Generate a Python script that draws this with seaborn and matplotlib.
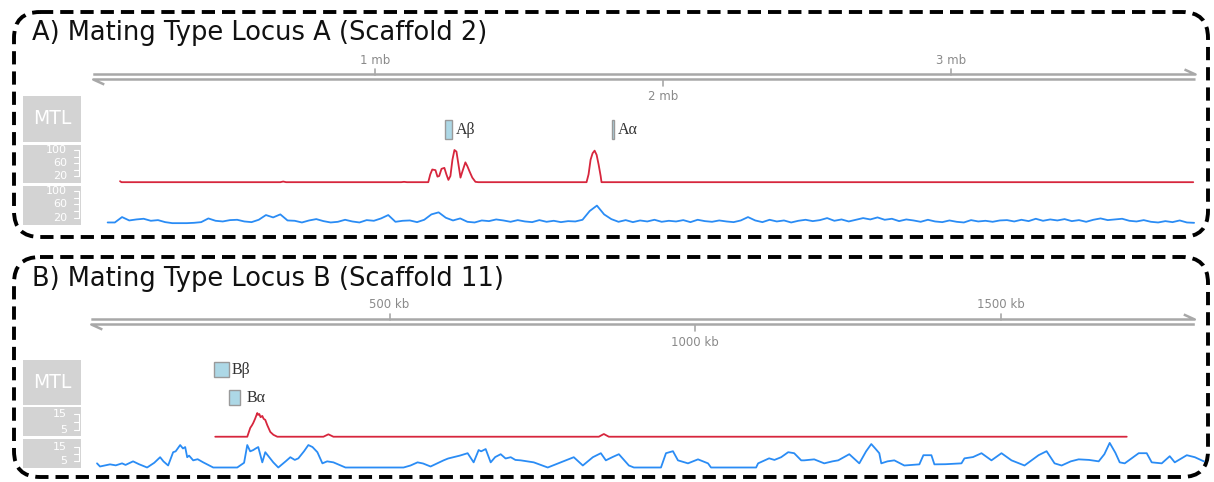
import numpy as np
import pandas as pd
import matplotlib
matplotlib.use("Agg")
import matplotlib.pyplot as plt
import matplotlib.transforms as mtransforms
from matplotlib.patches import FancyBboxPatch, Rectangle
import seaborn as sns

sns.set_theme(style="white")
plt.rcParams["font.family"] = ["DejaVu Sans"]

# ---------------- Scaffold 2 (positions in mb) ----------------
a_title = "A) Mating Type Locus A (Scaffold 2)"
a_ruler = (0.02, 3.85)
a_ticks = [1, 2, 3]
a_tick_labels = ["1 mb", "2 mb", "3 mb"]
a_genes = ["Aβ", "Aα"]
a_gene_start = [1.243, 1.821]
a_gene_end = [1.267, 1.828]

a_red_pos = [0.113, 0.118, 0.67, 0.68, 0.69, 1.09, 1.10, 1.11, 1.184, 1.191, 1.198,
             1.209, 1.216, 1.222, 1.230, 1.240, 1.247, 1.254, 1.261, 1.268, 1.275,
             1.282, 1.289, 1.296, 1.303, 1.313, 1.320, 1.327, 1.337, 1.348, 1.358,
             1.734, 1.741, 1.748, 1.755, 1.762, 1.769, 1.776, 1.783, 1.786, 3.842]
a_red_val = [4, 1, 1, 3, 1, 1, 2, 1, 1, 25, 40,
             38, 18, 20, 42, 45, 25, 8, 20, 70, 100,
             95, 55, 15, 35, 62, 50, 35, 15, 2, 1,
             1, 25, 70, 90, 98, 85, 55, 20, 1, 1]

a_blue_start, a_blue_step = 0.07, 0.025
a_blue_val = [6, 6, 22, 12, 15, 17, 11, 13, 7, 4, 4, 4, 5, 7, 18, 11, 9, 13, 14, 9,
              7, 14, 28, 21, 30, 12, 11, 6, 12, 16, 10, 6, 8, 14, 9, 6, 13, 11, 18, 28,
              8, 11, 12, 7, 14, 30, 36, 20, 12, 18, 8, 6, 12, 10, 15, 12, 8, 13, 9, 7,
              13, 8, 11, 7, 10, 9, 14, 40, 56, 30, 16, 8, 13, 7, 12, 9, 14, 8, 11, 9,
              13, 7, 14, 10, 8, 12, 9, 7, 12, 22, 12, 7, 14, 9, 12, 6, 11, 14, 10, 13,
              19, 11, 15, 9, 14, 19, 15, 21, 14, 17, 10, 15, 12, 8, 14, 9, 7, 12, 8, 6,
              13, 9, 11, 8, 12, 13, 9, 14, 10, 17, 11, 15, 12, 16, 10, 13, 8, 14, 18, 13,
              15, 17, 11, 9, 13, 8, 6, 10, 7, 12, 6, 5]

# ---------------- Scaffold 11 (positions in kb) ----------------
b_title = "B) Mating Type Locus B (Scaffold 11)"
b_ruler = (12, 1818)
b_ticks = [500, 1000, 1500]
b_tick_labels = ["500 kb", "1000 kb", "1500 kb"]
b_genes = ["Bβ", "Bα"]
b_gene_start = [213, 238]
b_gene_end = [238, 256]

b_red_pos = [214.8, 267.2, 272.1, 275, 277.0, 280, 283.6, 285, 286.9, 289, 291.8, 294,
             296.7, 300, 304.9, 310, 316.4, 391.8, 400.0, 408.2, 842.6, 850.8, 859.0, 1706.6]
b_red_val = [0.8, 0.8, 6.3, 8, 9.4, 12, 15.6, 14.5, 15.0, 13, 13.8, 12,
             11.3, 8, 3.8, 2, 0.8, 0.8, 2.3, 0.8, 0.8, 2.5, 0.8, 0.8]

b_blue_pos = [21.3, 26.2, 42.6, 52, 62.3, 68, 80.3, 90, 103.3, 115, 124.6, 130, 137.7,
              145.9, 150, 157.4, 162, 165.6, 168.9, 172, 178.7, 186, 195.1, 211.5, 250.8,
              262, 267.2, 272, 277.0, 281, 285.2, 291.8, 296.7, 303, 309.8, 318.0, 330,
              337.7, 345, 350.8, 360, 367.2, 374, 382.0, 390.2, 398, 408.2, 427.9, 523.0,
              534.4, 545.9, 555, 567.2, 588.5, 596, 604.9, 615, 627.9, 637.7, 645.9, 650,
              657.4, 665.6, 673, 682.0, 690, 698.4, 706, 714.8, 725, 736.1, 759.0, 780.3,
              790, 801.6, 816.4, 832.8, 845.9, 854.1, 865, 875.4, 891.8, 900.0, 944.3,
              952.5, 963.9, 972.1, 988.5, 1004.9, 1021.3, 1026.2, 1100.0, 1103.3, 1121.3,
              1130, 1141.0, 1152.5, 1162.3, 1173.8, 1178.7, 1195.1, 1211.5, 1225, 1234.4,
              1252.5, 1268.9, 1280, 1288.5, 1295, 1301.6, 1304.9, 1315, 1326.2, 1342.6,
              1367.2, 1373.8, 1386.9, 1391.8, 1410, 1436.1, 1441.0, 1455, 1468.9, 1485.2,
              1501.6, 1518.0, 1539.3, 1562.3, 1575.4, 1588.5, 1600.0, 1615, 1627.9, 1645,
              1660.7, 1670, 1678.7, 1688, 1695.1, 1703.3, 1726.2, 1739.3, 1747.5, 1763.9,
              1777.0, 1785.2, 1804.9, 1818.0, 1832.8]
b_blue_val = [3.6, 1.4, 2.9, 2.2, 3.6, 2.5, 5.0, 3.0, 0.7, 4, 7.9, 5, 2.1,
              11.4, 12, 16.4, 14, 15.0, 7.9, 9, 5.7, 6.5, 4.3, 0.7, 0.7,
              4, 16.4, 12, 12.9, 14, 15.0, 4.3, 11.4, 8, 4.3, 0.7, 5,
              7.9, 6, 7.1, 12, 16.4, 15, 11.4, 3.6, 5, 4.3, 0.7, 0.7,
              2.1, 4.3, 3.5, 1.4, 5.7, 7, 7.9, 9, 10.7, 4.3, 12.9, 12,
              13.6, 4.3, 8, 10.0, 7, 7.9, 6, 5.7, 5, 4.3, 0.7, 4.3,
              6, 7.9, 2.1, 7.9, 10.7, 5.7, 8, 10.0, 2.1, 0.7, 0.7,
              10.7, 12.1, 5.7, 3.6, 6.4, 3.6, 0.7, 0.7, 3.6, 7.1,
              6, 7.9, 11.4, 10.7, 5.7, 5.7, 6.4, 3.6, 5, 5.7,
              10.0, 3.6, 12, 17.1, 14, 10.7, 3.6, 5, 5.7, 2.1,
              2.9, 9.3, 9.3, 2.9, 3, 3.6, 7.1, 8, 10.7, 5.7,
              10.7, 5.7, 2.1, 9.3, 12.1, 3.6, 2.1, 5, 6.4, 6,
              5.0, 10, 17.9, 11, 4.3, 3.6, 10.7, 10.7, 4.3, 3.6,
              8.6, 4.3, 9.3, 7.9, 5.0]

RED = "#d7263d"
BLUE = "#2a8cf5"
BOX = "#d3d3d3"
RULER = "#a8a8a8"

W, H = 1214, 482
fig = plt.figure(figsize=(W / 100, H / 100), dpi=100)
bg = fig.add_axes([0, 0, 1, 1])
bg.set_xlim(0, W)
bg.set_ylim(H, 0)
bg.axis("off")


def px_axes(x0, y0, x1, y1):
    ax = fig.add_axes([x0 / W, 1 - y1 / H, (x1 - x0) / W, (y1 - y0) / H])
    ax.axis("off")
    return ax


def track(y0, y1, zero_px, ppu, x_origin, ppx):
    ax = px_axes(90, y0, 1210, y1)
    ax.set_xlim((90 - x_origin) / ppx, (1210 - x_origin) / ppx)
    ax.set_ylim((zero_px - y1) / ppu, (zero_px - y0) / ppu)
    return ax


def scale_box(ax, y0, y1, ticks, labels):
    bg.add_patch(Rectangle((23, y0), 58, y1 - y0, color=BOX, lw=0))
    tr = mtransforms.blended_transform_factory(bg.transData, ax.transData)
    bg.plot([79, 79], [min(ticks), max(ticks)], transform=tr, color="white", lw=0.8)
    for t in ticks:
        bg.plot([74, 79], [t, t], transform=tr, color="white", lw=0.8)
    for t in labels:
        bg.text(67, t, str(t), transform=tr, ha="right", va="center",
                color="white", fontsize=8)


def panel(box_y0, box_y1, title, title_y, ruler, ticks, tick_labels, ruler_y,
          x_origin, ppx, genes, g_start, g_end, gene_rows, gene_gap, mtl_box,
          red_ax_args, red_x, red_y, red_ticks, red_labels, red_box,
          blue_ax_args, blue_x, blue_y, blue_ticks, blue_labels, blue_box):
    bg.add_patch(FancyBboxPatch((14, box_y0), 1194, box_y1 - box_y0,
                                boxstyle="round,pad=0,rounding_size=26", fill=False,
                                ec="black", lw=2.8, ls=(0, (3.4, 1.8))))
    bg.text(32, title_y, title, ha="left", va="center", fontsize=18.5, color="#111111")

    red_ax = track(*red_ax_args, x_origin, ppx)
    blue_ax = track(*blue_ax_args, x_origin, ppx)
    sns.lineplot(x=red_x, y=red_y, ax=red_ax, color=RED, lw=1.3)
    sns.lineplot(x=blue_x, y=blue_y, ax=blue_ax, color=BLUE, lw=1.3)

    # ruler: two strands with half arrowheads
    tr = mtransforms.blended_transform_factory(red_ax.transData, bg.transData)
    top, bot = ruler_y
    barb = 11 / ppx
    bg.plot([ruler[0], ruler[1], ruler[1] - barb], [top, top, top - 5],
            transform=tr, color=RULER, lw=1.8, solid_capstyle="butt")
    bg.plot([ruler[1], ruler[0], ruler[0] + barb], [bot, bot, bot + 5],
            transform=tr, color=RULER, lw=1.8, solid_capstyle="butt")
    for i, (t, lab) in enumerate(zip(ticks, tick_labels)):
        if i % 2 == 0:
            bg.plot([t, t], [top - 6, top], transform=tr, color=RULER, lw=1.2)
            bg.text(t, top - 14.5, lab, transform=tr, ha="center", va="center",
                    fontsize=8.5, color="#8a8a8a")
        else:
            bg.plot([t, t], [bot, bot + 6], transform=tr, color=RULER, lw=1.2)
            bg.text(t, bot + 17.5, lab, transform=tr, ha="center", va="center",
                    fontsize=8.5, color="#8a8a8a")

    # genes
    for g, s, e, (r0, r1), gap in zip(genes, g_start, g_end, gene_rows, gene_gap):
        bg.add_patch(Rectangle((s, r0), e - s, r1 - r0, transform=tr,
                               fc="#add8e6", ec="#9a9a9a", lw=1.0))
        bg.annotate(g, xy=(e, (r0 + r1) / 2), xycoords=tr, xytext=(gap, 0),
                    textcoords="offset pixels", ha="left", va="center", fontsize=11.5,
                    family=["Liberation Serif", "DejaVu Serif"], color="#333333")

    # scale label boxes
    bg.add_patch(Rectangle((23, mtl_box[0]), 58, mtl_box[1] - mtl_box[0], color=BOX, lw=0))
    bg.text(52, (mtl_box[0] + mtl_box[1]) / 2, "MTL", ha="center", va="center",
            color="white", fontsize=13.5)
    scale_box(red_ax, red_box[0], red_box[1], red_ticks, red_labels)
    scale_box(blue_ax, blue_box[0], blue_box[1], blue_ticks, blue_labels)


a_blue_pos = a_blue_start + a_blue_step * np.arange(len(a_blue_val))

panel(12, 237, a_title, 33, a_ruler, a_ticks, a_tick_labels, (74.5, 79.5),
      87.5, 287.8, a_genes, a_gene_start, a_gene_end, [(120, 139), (120, 139)], [4, 4],
      (96, 142),
      (140, 186, 182.5, 0.325), a_red_pos, a_red_val, [20, 40, 60, 80, 100], [20, 60, 100],
      (145, 183),
      (186, 228, 224.5, 0.3375), a_blue_pos, a_blue_val, [20, 40, 60, 80, 100],
      [20, 60, 100], (186, 225))

panel(257, 477, b_title, 279, b_ruler, b_ticks, b_tick_labels, (319.5, 324.5),
      84, 0.611, b_genes, b_gene_start, b_gene_end, [(362, 377), (390, 405)], [2, 6],
      (360, 405),
      (404, 440, 438, 1.6), b_red_pos, b_red_val, [5, 10, 15], [5, 15], (407, 436),
      (436, 471, 468.5, 1.43), b_blue_pos, b_blue_val, [5, 10, 15], [5, 15], (439, 468))

fig.savefig("out.png", dpi=100)
